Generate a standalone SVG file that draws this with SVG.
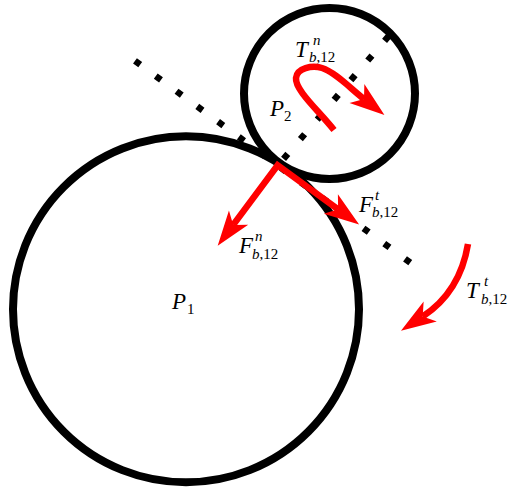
<svg xmlns="http://www.w3.org/2000/svg" width="509" height="490" viewBox="0 0 509 490">
  <style>
    .body { fill: none; stroke: #000; stroke-width: 8; }
    .dots { fill: none; stroke: #000; stroke-width: 6.5; }
    .arrow { fill: none; stroke: #f00; stroke-width: 6.5; stroke-linejoin: miter; }
    .lbl { font-family: "Liberation Serif", "Times New Roman", serif; font-size: 23px; font-style: italic; fill: #000; }
    .scr { font-family: "Liberation Serif", "Times New Roman", serif; font-size: 15px; fill: #000; }
    .it { font-style: italic; }
  </style>
  <defs>
    <marker id="ah" markerUnits="userSpaceOnUse" orient="auto-start-reverse" viewBox="-12 -14 40 28" markerWidth="40" markerHeight="28" refX="0" refY="0" overflow="visible">
      <path d="M26,0 L-9,-12 L0,0 L-9,12 Z" fill="#f00"/>
    </marker>
  </defs>

  <g id="connectors">
    <line id="tangent-line" class="dots" x1="134.98" y1="60.78" x2="411.02" y2="263.22" stroke-dasharray="6.5 19.26"/>
    <line id="normal-line" class="dots" x1="283.56" y1="158.85" x2="389.44" y2="35.15" stroke-dasharray="6.5 19.39"/>
  </g>

  <g id="P1">
    <circle class="body" cx="186" cy="309.3" r="173"/>
    <text class="lbl" x="172" y="309">P</text>
    <text class="scr" x="187" y="314">1</text>
  </g>

  <g id="P2">
    <circle class="body" cx="329.5" cy="93.5" r="85.5"/>
    <text class="lbl" x="270" y="116">P</text>
    <text class="scr" x="284" y="121">2</text>
  </g>

  <g id="forces">
    <path id="F-pair" class="arrow" d="M233.2,224.9 L277.6,165.2 L338.1,209.3" marker-start="url(#ah)" marker-end="url(#ah)"/>
    <path id="T-normal" class="arrow" d="M334,130 C318,110 295,90 296,78 C297,68 312,65 322,68 C335,72 350,88 364,99" marker-end="url(#ah)"/>
    <path id="T-tangent" class="arrow" d="M468,244 Q460,292 422.7,316.5" marker-end="url(#ah)"/>
  </g>

  <g id="labels">
    <g id="lbl-Tn">
      <text class="lbl" x="295" y="57">T</text>
      <text class="scr it" x="313" y="45">n</text>
      <text class="scr" x="309" y="62"><tspan class="it">b</tspan>,12</text>
    </g>
    <g id="lbl-Ft">
      <text class="lbl" x="359" y="212">F</text>
      <text class="scr it" x="375" y="200">t</text>
      <text class="scr" x="372" y="217"><tspan class="it">b</tspan>,12</text>
    </g>
    <g id="lbl-Fn">
      <text class="lbl" x="239" y="253">F</text>
      <text class="scr it" x="255" y="241">n</text>
      <text class="scr" x="252" y="259"><tspan class="it">b</tspan>,12</text>
    </g>
    <g id="lbl-Tt">
      <text class="lbl" x="466" y="298">T</text>
      <text class="scr it" x="484" y="286">t</text>
      <text class="scr" x="481" y="304"><tspan class="it">b</tspan>,12</text>
    </g>
  </g>
</svg>
